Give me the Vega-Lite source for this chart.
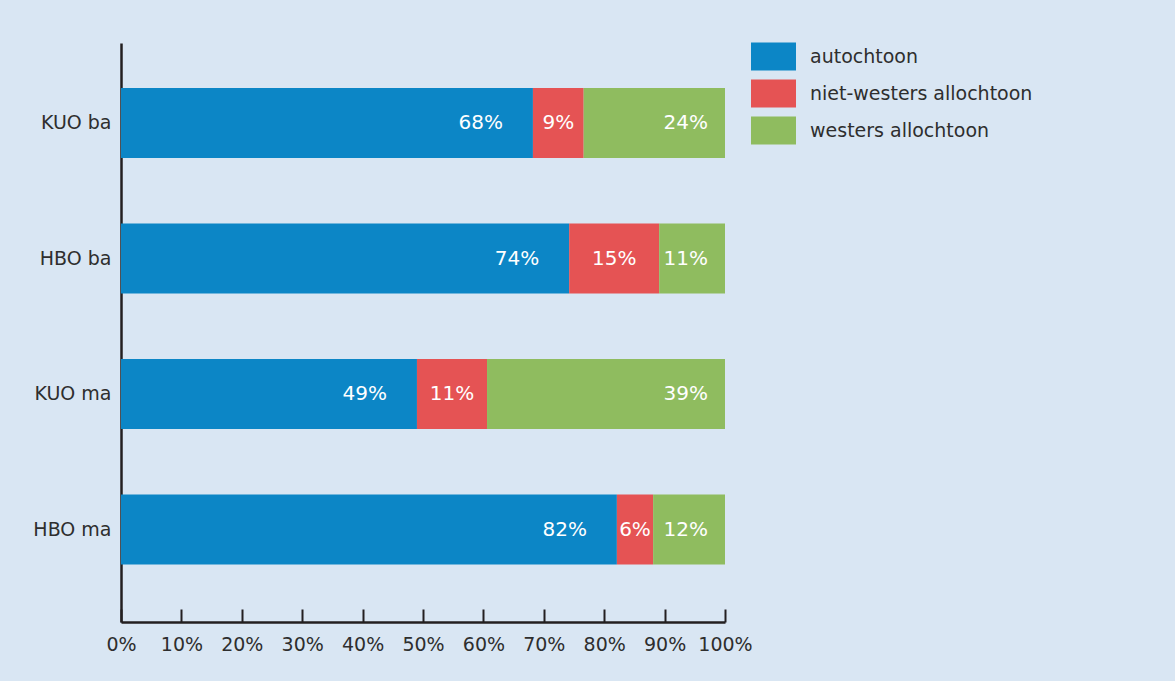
{
  "$schema": "https://vega.github.io/schema/vega-lite/v6.json",
  "autosize": {"type": "none"},
  "width": 604,
  "height": 579,
  "padding": {"left": 121, "top": 43, "right": 450, "bottom": 59},
  "background": "#d9e6f3",
  "config": {
    "view": {"stroke": null},
    "font": "DejaVu Sans",
    "axis": {"labelFont": "DejaVu Sans", "labelColor": "#2e2e2e", "domainColor": "#231f20", "tickColor": "#231f20"}
  },
  "data": {
    "values": [
      {"level": "KUO ba", "group": "autochtoon", "order": 1, "value": 68.2, "label": "68%"},
      {"level": "KUO ba", "group": "niet-westers allochtoon", "order": 2, "value": 8.4, "label": "9%"},
      {"level": "KUO ba", "group": "westers allochtoon", "order": 3, "value": 23.4, "label": "24%"},
      {"level": "HBO ba", "group": "autochtoon", "order": 1, "value": 74.2, "label": "74%"},
      {"level": "HBO ba", "group": "niet-westers allochtoon", "order": 2, "value": 14.9, "label": "15%"},
      {"level": "HBO ba", "group": "westers allochtoon", "order": 3, "value": 10.9, "label": "11%"},
      {"level": "KUO ma", "group": "autochtoon", "order": 1, "value": 49.0, "label": "49%"},
      {"level": "KUO ma", "group": "niet-westers allochtoon", "order": 2, "value": 11.6, "label": "11%"},
      {"level": "KUO ma", "group": "westers allochtoon", "order": 3, "value": 39.4, "label": "39%"},
      {"level": "HBO ma", "group": "autochtoon", "order": 1, "value": 82.1, "label": "82%"},
      {"level": "HBO ma", "group": "niet-westers allochtoon", "order": 2, "value": 6.0, "label": "6%"},
      {"level": "HBO ma", "group": "westers allochtoon", "order": 3, "value": 11.9, "label": "12%"}
    ]
  },
  "transform": [
    {"stack": "value", "groupby": ["level"], "sort": [{"field": "order"}], "offset": "normalize", "as": ["x0", "x1"]},
    {"calculate": "(datum.x0 + datum.x1) / 2", "as": "xm"}
  ],
  "encoding": {
    "y": {
      "field": "level", "type": "nominal", "sort": null,
      "scale": {"paddingInner": 0.483, "paddingOuter": 0.378, "align": 0.439},
      "axis": {"title": null, "ticks": false, "labelFontSize": 19, "labelPadding": 10, "domainWidth": 2.5}
    }
  },
  "layer": [
    {
      "mark": {"type": "bar"},
      "encoding": {
        "x": {
          "field": "x0", "type": "quantitative",
          "scale": {"domain": [0, 1], "nice": false},
          "axis": {"title": null, "format": ".0%", "values": [0, 0.1, 0.2, 0.3, 0.4, 0.5, 0.6, 0.7, 0.8, 0.9, 1], "grid": false, "tickSize": -13, "tickWidth": 2, "domainWidth": 2.5, "labelFontSize": 19, "labelPadding": 26, "labelOverlap": false, "labelFlush": false}
        },
        "x2": {"field": "x1"},
        "color": {
          "field": "group", "type": "nominal",
          "scale": {"domain": ["autochtoon", "niet-westers allochtoon", "westers allochtoon"], "range": ["#0c86c6", "#e55354", "#8fbc5f"]},
          "legend": {
            "title": null, "orient": "none", "legendX": 630, "legendY": -9, "padding": 0,
            "symbolType": "M-1,-0.622L1,-0.622L1,0.622L-1,0.622Z", "symbolSize": 2025,
            "symbolStrokeWidth": 0, "symbolOpacity": 1,
            "labelFontSize": 19, "labelFont": "DejaVu Sans", "labelColor": "#2e2e2e", "labelOffset": 14, "rowPadding": 0, "labelLimit": 400
          }
        }
      }
    },
    {
      "transform": [{"filter": "datum.order == 1"}],
      "mark": {"type": "text", "align": "right", "dx": -30, "color": "white", "fontSize": 20, "baseline": "middle"},
      "encoding": {"x": {"field": "x1", "type": "quantitative"}, "text": {"field": "label"}}
    },
    {
      "transform": [{"filter": "datum.order == 2"}],
      "mark": {"type": "text", "align": "center", "color": "white", "fontSize": 20, "baseline": "middle"},
      "encoding": {"x": {"field": "xm", "type": "quantitative"}, "text": {"field": "label"}}
    },
    {
      "transform": [{"filter": "datum.order == 3"}],
      "mark": {"type": "text", "align": "right", "dx": -17, "color": "white", "fontSize": 20, "baseline": "middle"},
      "encoding": {"x": {"field": "x1", "type": "quantitative"}, "text": {"field": "label"}}
    }
  ]
}
